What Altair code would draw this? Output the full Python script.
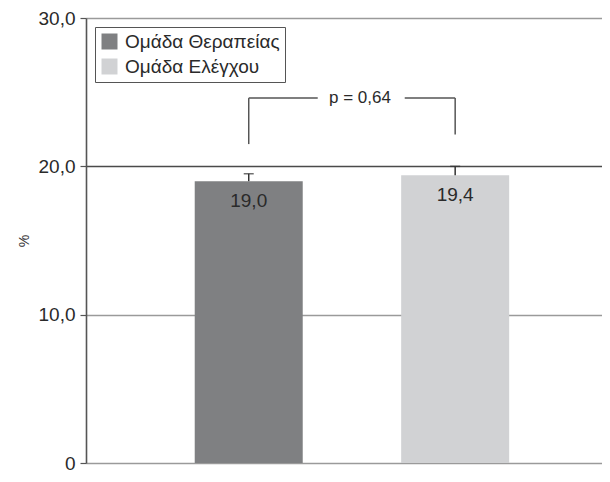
import altair as alt
import pandas as pd

groups = ["Ομάδα Θεραπείας", "Ομάδα Ελέγχου"]
positions = [1, 2]
values = [19.0, 19.4]
value_labels = ["19,0", "19,4"]
err_upper = [19.5, 20.0]
bracket_low = [21.5, 22.15]
bracket_top = 24.6
p_label = "p = 0,64"
bar_colors = ["#7f8082", "#d1d2d4"]
y_ticks = [0, 10, 20, 30]

FONT = "Liberation Sans"

df = pd.DataFrame({
    "group": groups,
    "pos": positions,
    "value": values,
    "label": value_labels,
    "upper": err_upper,
    "blow": bracket_low,
    "btop": [bracket_top] * len(groups),
})
df_h = pd.DataFrame({"x1": [positions[0]], "x2": [positions[1]], "y": [bracket_top]})
df_p = pd.DataFrame({"x": [(positions[0] + positions[1]) / 2], "y": [bracket_top], "t": [p_label]})

xscale = alt.Scale(domain=[0.236, 2.687], nice=False, zero=False)
yscale = alt.Scale(domain=[0, 30], nice=False)

yaxis = alt.Axis(
    values=y_ticks,
    labelExpr="datum.value == 0 ? '0' : replace(format(datum.value, '.1f'), '.', ',')",
    grid=True,
    gridColor={"condition": {"test": "datum.value === 20", "value": "#4a4a4a"}, "value": "#9a9a9a"},
    gridWidth=1.6,
    domainColor="#555555",
    domainWidth=1.6,
    tickColor="#555555",
    tickSize=6,
    tickWidth=1.2,
    labelFont=FONT,
    labelFontSize=19,
    labelColor="#2a2a2a",
    labelPadding=5,
    title="%",
    titleFont=FONT,
    titleFontSize=14,
    titleFontWeight="normal",
    titleColor="#333333",
    titlePadding=7,
)

base = alt.Chart(df)

bars = base.mark_bar(size=108).encode(
    x=alt.X("pos:Q", scale=xscale, axis=None),
    y=alt.Y("value:Q", scale=yscale, axis=yaxis),
    color=alt.Color(
        "group:N",
        scale=alt.Scale(domain=groups, range=bar_colors),
        sort=groups,
        legend=alt.Legend(
            title=None,
            orient="none",
            legendX=9,
            legendY=9,
            symbolType="square",
            symbolSize=256,
            symbolStrokeWidth=0,
            labelFont=FONT,
            labelFontSize=19,
            labelColor="#2a2a2a",
            labelOffset=6,
            rowPadding=5,
            padding=5,
            strokeColor="#555555",
            fillColor="white",
        ),
    ),
)

err = base.mark_rule(color="#333333", strokeWidth=1.5).encode(
    x="pos:Q", y="value:Q", y2="upper:Q"
)
caps = base.mark_tick(color="#333333", thickness=1.5, size=10, orient="horizontal").encode(
    x="pos:Q", y="upper:Q"
)
labels = base.mark_text(font=FONT, fontSize=19, color="#2a2a2a", baseline="middle", dy=20).encode(
    x="pos:Q", y="value:Q", text="label:N"
)
vert = base.mark_rule(color="#555555", strokeWidth=1.5).encode(
    x="pos:Q", y="blow:Q", y2="btop:Q"
)
horiz = alt.Chart(df_h).mark_rule(color="#555555", strokeWidth=1.5, strokeDash=[69, 87, 60]).encode(
    x="x1:Q", x2="x2:Q", y="y:Q"
)
ptext = alt.Chart(df_p).mark_text(font=FONT, fontSize=17, color="#2a2a2a", baseline="middle", dx=8).encode(
    x="x:Q", y="y:Q", text="t:N"
)

chart = alt.layer(bars, err, caps, labels, vert, horiz, ptext).properties(
    width=516,
    height=445,
    autosize=alt.AutoSizeParams(type="none"),
    padding={"left": 78, "top": 10, "right": 0, "bottom": 11},
).configure_view(stroke=None).configure(background="white")

chart.save("out.html", embed_options={"renderer": "svg", "actions": False})
